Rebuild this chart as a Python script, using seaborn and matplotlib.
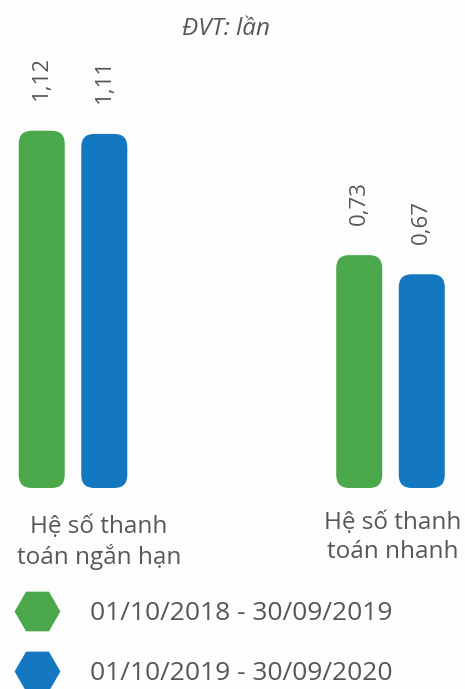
import matplotlib
matplotlib.use("Agg")
import matplotlib.pyplot as plt
import seaborn as sns
import pandas as pd
from matplotlib.patches import FancyBboxPatch
from matplotlib.lines import Line2D

# ---- data ----
categories = ["Hệ số thanh\ntoán ngắn hạn", "Hệ số thanh\ntoán nhanh"]
periods = ["01/10/2018 - 30/09/2019", "01/10/2019 - 30/09/2020"]
values_2019 = [1.12, 0.73]
values_2020 = [1.11, 0.67]
value_labels_2019 = ["1,12", "0,73"]
value_labels_2020 = ["1,11", "0,67"]
unit_label = "ĐVT: lần"
colors = ["#4CA94B", "#1378BF"]

df = pd.DataFrame({
    "category": categories * 2,
    "period": [periods[0]] * len(categories) + [periods[1]] * len(categories),
    "value": values_2019 + values_2020,
})

sns.set_theme(style="white")
plt.rcParams["font.family"] = ["Open Sans", "DejaVu Sans"]
text_color = "#575757"

W, H = 465, 689
fig = plt.figure(figsize=(W / 100, H / 100), dpi=100)
fig.patch.set_facecolor("#FDFDFD")
ax = fig.add_axes([0, 0, 1, 1])
ax.set_facecolor("none")

sns.barplot(data=df, x="category", y="value", hue="period", hue_order=periods,
            palette=colors, width=0.394, gap=0.264, saturation=1, ax=ax,
            legend=False)

# pixel mapping
px_per_x = 317.5
px_per_y = 319.0
x0_px = 73.0
base_px = 488.0
ax.set_xlim(-x0_px / px_per_x, (W - x0_px) / px_per_x)
ax.set_ylim(-(H - base_px) / px_per_y, base_px / px_per_y)
ax.axis("off")

# rounded bars
r = 13 / px_per_x
aspect = px_per_x / px_per_y
bars = list(ax.patches)
for p in bars:
    x, y, w, h = p.get_x(), p.get_y(), p.get_width(), p.get_height()
    fc = p.get_facecolor()
    p.remove()
    ax.add_patch(FancyBboxPatch((x, y), w, h,
                                boxstyle=f"round,pad=0,rounding_size={r}",
                                mutation_aspect=aspect, facecolor=fc,
                                edgecolor="none"))

# value labels
labels_all = value_labels_2019 + value_labels_2020
for p, lab in zip(bars, labels_all):
    ax.annotate(lab, (p.get_x() + p.get_width() / 2, p.get_height()),
                xytext=(0, 22), textcoords="offset points", rotation=90,
                ha="center", va="bottom", fontsize=16, color=text_color)

# category labels
cat_offsets = [0.082, 0.007]
cat_tops_px = [515, 511]
for i, (cat, off, top) in enumerate(zip(categories, cat_offsets, cat_tops_px)):
    ax.text(i + off, -(top - base_px) / px_per_y, cat, ha="center",
            va="top", fontsize=17.5, color=text_color, linespacing=1.25)

# title
fig.text(226 / W, 1 - 35 / H, unit_label, ha="center", va="baseline",
         fontsize=17.5, style="italic", color=text_color)

# legend
handles = [Line2D([], [], marker="H", linestyle="none", markersize=33,
                  markerfacecolor=c, markeredgecolor="none") for c in colors]
fig.legend(handles, periods, loc="upper left",
           bbox_to_anchor=(17.7 / W, 1 - 601.0 / H), frameon=False,
           borderpad=0, borderaxespad=0, handlelength=1.5,
           handletextpad=1.24, labelspacing=1.33, fontsize=19,
           labelcolor=text_color)

fig.savefig("out.png", dpi=100, facecolor=fig.get_facecolor())
